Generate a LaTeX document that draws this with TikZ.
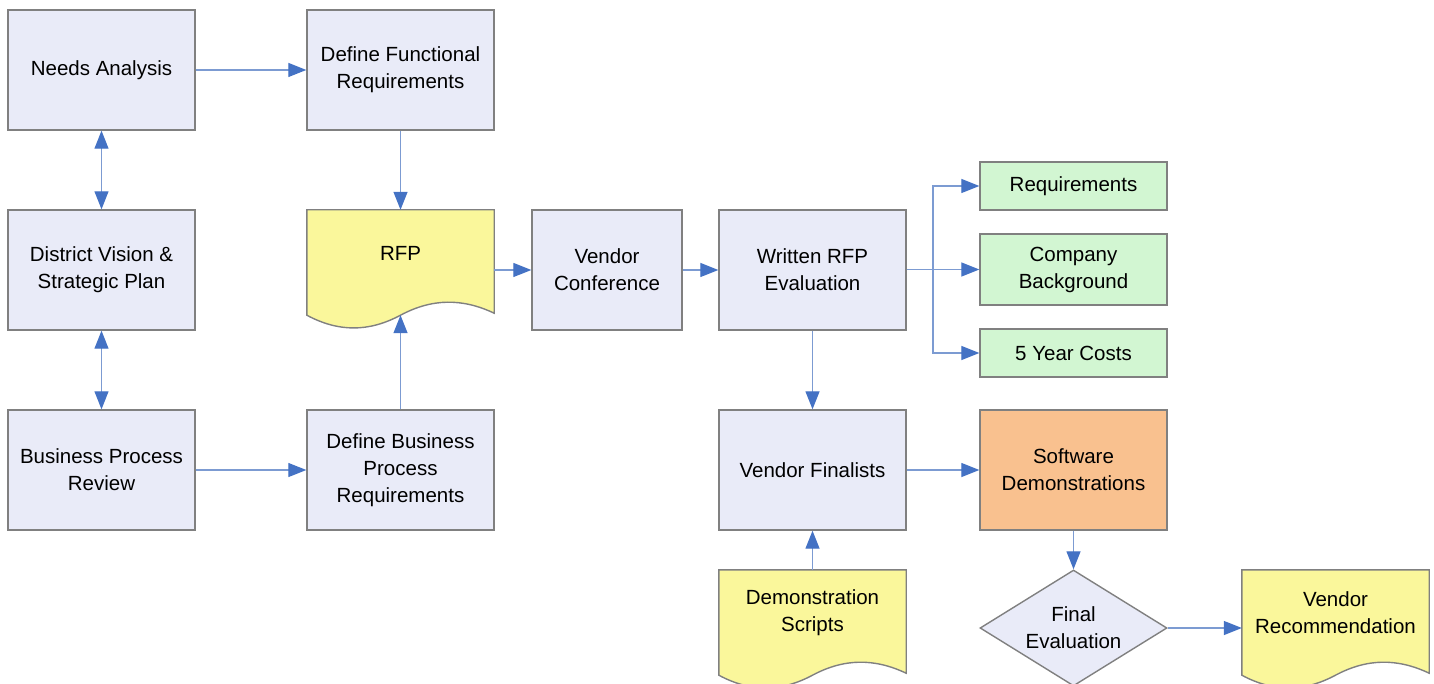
\documentclass[tikz,border=0pt]{standalone}
\usepackage{fontspec}
\setmainfont{Liberation Sans}
\usetikzlibrary{arrows.meta,shapes.geometric}
\definecolor{boxfill}{HTML}{E9EBF8}
\definecolor{docfill}{HTML}{FAF79B}
\definecolor{greenfill}{HTML}{D2F6D2}
\definecolor{orangefill}{HTML}{F9C18F}
\definecolor{edgegray}{HTML}{808080}
\definecolor{arrline}{HTML}{7C9BD2}
\definecolor{arrhead}{HTML}{4472C4}
\tikzset{
  lbl/.style={font=\fontsize{20.5}{27}\selectfont, align=center, text=black, inner sep=0pt},
  procbox/.style={lbl, draw=edgegray, line width=1.4pt, fill=boxfill,
    minimum width=187pt, minimum height=120pt},
  smallbox/.style={lbl, draw=edgegray, line width=1.4pt, fill=greenfill,
    minimum width=187pt},
  docnode/.style={lbl, minimum width=187pt, minimum height=86pt},
  docline/.style={draw=edgegray, line width=1.4pt, fill=docfill},
  decision/.style={diamond, draw=edgegray, line width=1.4pt, fill=boxfill,
    inner sep=0pt, minimum width=187pt, minimum height=116pt},
  tip/.style={},
  flow/.style={draw=arrline, line width=1.3pt,
    -{Triangle[length=18pt,width=14pt,color=arrhead]}},
  bothflow/.style={draw=arrline, line width=1.3pt,
    {Triangle[length=18pt,width=14pt,color=arrhead]}-{Triangle[length=18pt,width=14pt,color=arrhead]}}
}
% document symbol: flat top, wavy bottom below the text node
\newcommand{\docshape}[1]{%
  \path[docline] (#1.north west) -- (#1.north east)
    -- ([shift={(0pt,-17pt)}]#1.south east)
    .. controls ([shift={(-31.8pt,-2pt)}]#1.south east) and ([shift={(31.8pt,-2pt)}]#1.south) .. ([shift={(0pt,-19pt)}]#1.south)
    .. controls ([shift={(-31.8pt,-36pt)}]#1.south) and ([shift={(31.8pt,-36pt)}]#1.south west) .. ([shift={(0pt,-19pt)}]#1.south west)
    -- cycle;}
\begin{document}
\begin{tikzpicture}[x=1pt,y=-1pt]
\useasboundingbox (0,0) rectangle (1434,684);
\clip (0,0) rectangle (1434,684);

% left column and requirement boxes
\node[procbox] (needs) at (101.5,70) {Needs Analysis};
\node[procbox] (func) at (400.5,70) {Define Functional\\Requirements};
\node[procbox] (vision) at (101.5,270) {District Vision \&\\Strategic Plan};
\node[procbox] (bpr) at (101.5,470) {Business Process\\Review};
\node[procbox] (dbpr) at (400.5,470) {Define Business\\Process\\Requirements};

% RFP document
\node[docnode] (rfp) at (400.5,253) {};
\docshape{rfp}
\node[lbl] at (rfp) {RFP};
\coordinate (rfpwave) at ([shift={(0pt,-19pt)}]rfp.south);

\node[procbox, minimum width=150pt] (vconf) at (607,270) {Vendor\\Conference};
\node[procbox] (wre) at (812.5,270) {Written RFP\\Evaluation};

% evaluation criteria
\node[smallbox, minimum height=48pt] (req) at (1073.5,186) {Requirements};
\node[smallbox, minimum height=71pt] (cb) at (1073.5,269.5) {Company\\Background};
\node[smallbox, minimum height=48pt] (cost) at (1073.5,353) {5 Year Costs};

\node[procbox] (vf) at (812.5,470) {Vendor Finalists};
\node[procbox, fill=orangefill] (sd) at (1073.5,470) {Software\\Demonstrations};

% demonstration scripts document
\node[docnode] (ds) at (812.5,613) {};
\docshape{ds}
\node[lbl] at (ds) {Demonstration\\Scripts};

% final evaluation decision
\node[decision] (fe) at (1073.5,628) {};
\node[lbl] at (fe) {Final\\Evaluation};

% vendor recommendation document
\node[docnode] (vr) at (1335.5,613) {};
\docshape{vr}
\node[lbl] at (vr) {Vendor\\Recommendation};

% connectors
\draw[flow] (needs) -- (func);
\draw[flow] (func) -- (rfp.north);
\draw[bothflow] (needs) -- (vision);
\draw[bothflow] (vision) -- (bpr);
\draw[flow] (bpr) -- (dbpr);
\draw[flow] (dbpr) -- (rfpwave);
\draw[flow] (rfp.east |- vconf) -- (vconf);
\draw[flow] (vconf) -- (wre);
\coordinate (split) at (933,270);
\draw[flow] (wre.east |- cb) -- (cb.west);
\draw[flow] (split) |- (req.west);
\draw[flow] (split) |- (cost.west);
\draw[flow] (wre) -- (vf);
\draw[flow] (vf) -- (sd);
\draw[flow] (ds.north) -- (vf);
\draw[flow] (sd) -- (fe);
\draw[flow] (fe) -- (vr.west |- fe);
\end{tikzpicture}
\end{document}
